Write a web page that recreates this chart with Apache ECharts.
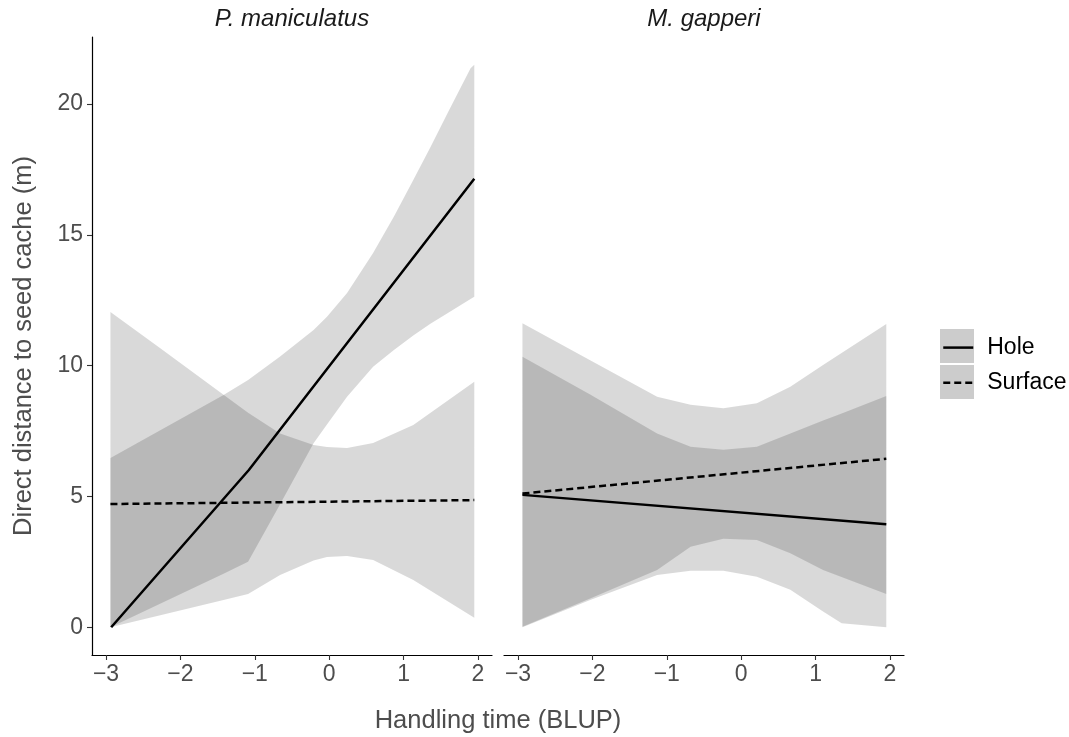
<!DOCTYPE html>
<html>
<head>
<meta charset="utf-8">
<script src="https://cdn.jsdelivr.net/npm/echarts@6/dist/echarts.min.js"></script>
<style>
html,body{margin:0;padding:0;background:#fff;}
#chart{width:1069px;height:737px;}
</style>
</head>
<body>
<div id="chart"></div>
<script>
// ---- tick labels ----
const xTicks = [-3, -2, -1, 0, 1, 2];
const yTicks = [0, 5, 10, 15, 20];
const facetNames = ['P. maniculatus', 'M. gapperi'];
const seriesNames = ['Hole', 'Surface'];

// ---- P. maniculatus ----
const pmHoleX = [-2.93, -1.08, 1.95];
const pmHoleY = [0, 6.01, 17.14];
const pmSurfX = [-2.94, 1.95];
const pmSurfY = [4.71, 4.86];

const pmHoleRibX  = [-2.94, -1.42, -1.09, -0.66, -0.21, -0.03, 0.24, 0.59, 0.87, 1.13, 1.36, 1.59, 1.90, 1.95];
const pmHoleRibLo = [0, 2.05, 2.5, 4.7, 7.03, 7.75, 8.81, 9.96, 10.6, 11.15, 11.6, 12.0, 12.55, 12.63];
const pmHoleRibHi = [6.47, 8.88, 9.45, 10.35, 11.36, 11.87, 12.78, 14.3, 15.7, 17.09, 18.35, 19.65, 21.37, 21.5];

const pmSurfRibX  = [-2.94, -2.27, -1.42, -1.09, -0.66, -0.21, -0.03, 0.24, 0.59, 1.13, 1.95];
const pmSurfRibLo = [0, 0.46, 1.04, 1.27, 2.0, 2.55, 2.69, 2.72, 2.57, 1.81, 0.36];
const pmSurfRibHi = [12.05, 10.66, 8.89, 8.2, 7.41, 6.97, 6.89, 6.85, 7.04, 7.73, 9.38];

// ---- M. gapperi ----
const mgHoleX = [-2.94, 1.95];
const mgHoleY = [5.06, 3.94];
const mgSurfX = [-2.94, 1.95];
const mgSurfY = [5.11, 6.44];

const mgHoleRibX  = [-2.94, -2.03, -1.13, -0.68, -0.24, 0.21, 0.66, 1.10, 1.35, 1.95];
const mgHoleRibLo = [0, 1.04, 2.0, 2.16, 2.16, 1.93, 1.43, 0.6, 0.15, 0];
const mgHoleRibHi = [10.34, 8.9, 7.41, 6.9, 6.78, 6.9, 7.41, 7.9, 8.17, 8.84];

const mgSurfRibX  = [-2.94, -2.03, -1.13, -0.68, -0.24, 0.21, 0.66, 1.10, 1.95];
const mgSurfRibLo = [0.02, 1.1, 2.19, 3.08, 3.38, 3.34, 2.83, 2.19, 1.27];
const mgSurfRibHi = [11.62, 10.21, 8.81, 8.5, 8.37, 8.56, 9.19, 10.02, 11.59];

const FONT = '"Liberation Sans", Arial, Helvetica, sans-serif';
const fmt = v => (v < 0 ? '\u2212' + Math.abs(v) : String(v));

function zip(xs, ys) { return xs.map((x, i) => [x, ys[i]]); }

function ribbon(xs, lo, hi, idx) {
  return {
    type: 'custom', xAxisIndex: idx, yAxisIndex: idx, silent: true, z: 1, clip: true,
    animation: false,
    data: xs.map((x, i) => [x, lo[i], hi[i]]),
    encode: { x: 0, y: [1, 2] },
    renderItem: function (params, api) {
      if (params.dataIndex !== 0) return null;
      const pts = [];
      for (let i = 0; i < xs.length; i++) pts.push(api.coord([xs[i], hi[i]]));
      for (let i = xs.length - 1; i >= 0; i--) pts.push(api.coord([xs[i], lo[i]]));
      return { type: 'polygon', shape: { points: pts }, style: { fill: 'rgba(0,0,0,0.15)', stroke: null } };
    }
  };
}

function line(name, xs, ys, idx, dashed) {
  return {
    type: 'line', name: name, xAxisIndex: idx, yAxisIndex: idx, z: 3,
    symbol: 'none', animation: false, silent: true,
    data: zip(xs, ys),
    itemStyle: { color: '#000' },
    lineStyle: { color: '#000', width: 2.5, type: dashed ? [7, 4] : 'solid' }
  };
}

function xAxis(idx) {
  return {
    type: 'value', gridIndex: idx, min: -3.188, max: 2.188,
    axisLine: { show: true, onZero: false, lineStyle: { color: '#000', width: 1.2 } },
    axisTick: { show: true, length: 5, customValues: xTicks, lineStyle: { color: '#333', width: 1.1 } },
    axisLabel: { customValues: xTicks, formatter: fmt, color: '#4D4D4D', fontSize: 23, fontFamily: FONT, margin: 8 },
    splitLine: { show: false }
  };
}

const chart = echarts.init(document.getElementById('chart'), null, { renderer: 'canvas' });
chart.setOption({
  backgroundColor: '#fff',
  animation: false,
  grid: [
    { left: 92, top: 37, width: 400, height: 618, containLabel: false },
    { left: 504, top: 37, width: 400, height: 618, containLabel: false }
  ],
  xAxis: [xAxis(0), xAxis(1)],
  yAxis: [
    {
      type: 'value', gridIndex: 0, min: -1.06, max: 22.56,
      name: 'Direct distance to seed cache (m)', nameLocation: 'middle', nameGap: 55, nameRotate: 90,
      nameTextStyle: { color: '#4D4D4D', fontSize: 25.5, fontFamily: FONT },
      axisLine: { show: true, onZero: false, lineStyle: { color: '#000', width: 1.2 } },
      axisTick: { show: true, length: 5, customValues: yTicks, lineStyle: { color: '#333', width: 1.1 } },
      axisLabel: { customValues: yTicks, color: '#4D4D4D', fontSize: 23, fontFamily: FONT, margin: 9 },
      splitLine: { show: false }
    },
    {
      type: 'value', gridIndex: 1, min: -1.06, max: 22.56, show: false,
      splitLine: { show: false }
    }
  ],
  legend: [
    {
      orient: 'vertical', left: 940, top: 329, padding: 0, itemWidth: 34, itemHeight: 34, itemGap: 2,
      selectedMode: false, z: 1,
      data: seriesNames.map(n => ({ name: n, icon: 'rect', itemStyle: { color: '#CCCCCC', borderWidth: 0 } })),
      formatter: () => ' ',
      textStyle: { color: 'rgba(0,0,0,0)', fontSize: 22 }
    },
    {
      orient: 'vertical', left: 942, top: 334, padding: 0, itemWidth: 30, itemHeight: 34, itemGap: 8,
      selectedMode: false, z: 5,
      data: seriesNames.map(n => ({ name: n, itemStyle: { opacity: 0 } })),
      lineStyle: { width: 2.5 },
      textStyle: { color: '#000', fontSize: 23, fontFamily: FONT, padding: [0, 0, 0, 9] }
    }
  ],
  graphic: [
    { type: 'text', x: 292, y: 19, style: { text: facetNames[0], textAlign: 'center', textVerticalAlign: 'middle', font: 'italic 24px ' + FONT, fill: '#1A1A1A' } },
    { type: 'text', x: 704, y: 19, style: { text: facetNames[1], textAlign: 'center', textVerticalAlign: 'middle', font: 'italic 24px ' + FONT, fill: '#1A1A1A' } },
    { type: 'text', x: 498, y: 721, style: { text: 'Handling time (BLUP)', textAlign: 'center', textVerticalAlign: 'middle', font: '25.5px ' + FONT, fill: '#4D4D4D' } }
  ],
  series: [
    ribbon(pmHoleRibX, pmHoleRibLo, pmHoleRibHi, 0),
    ribbon(pmSurfRibX, pmSurfRibLo, pmSurfRibHi, 0),
    ribbon(mgHoleRibX, mgHoleRibLo, mgHoleRibHi, 1),
    ribbon(mgSurfRibX, mgSurfRibLo, mgSurfRibHi, 1),
    line('Hole', pmHoleX, pmHoleY, 0, false),
    line('Surface', pmSurfX, pmSurfY, 0, true),
    line('Hole', mgHoleX, mgHoleY, 1, false),
    line('Surface', mgSurfX, mgSurfY, 1, true)
  ]
});
</script>
</body>
</html>
